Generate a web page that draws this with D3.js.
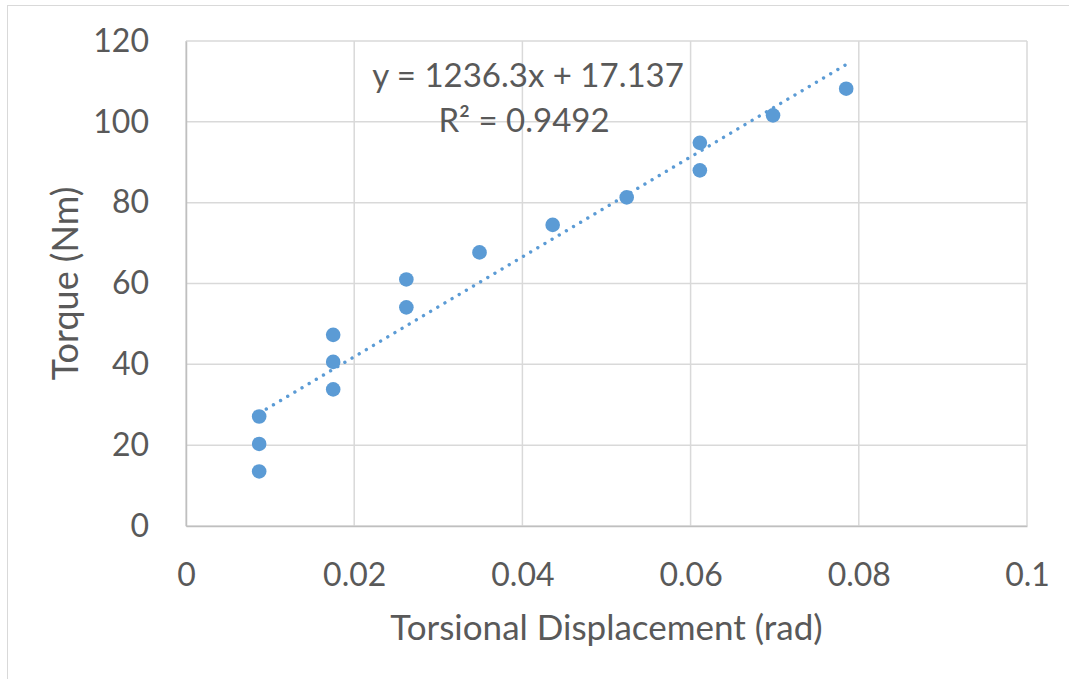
<!DOCTYPE html>
<html>
<head>
<meta charset="utf-8">
<script src="https://cdn.jsdelivr.net/npm/d3@7"></script>
<style>
  body { margin: 0; background: #fff; }
  svg text { font-family: Lato, "Open Sans", sans-serif; fill: #595959; }
</style>
</head>
<body>
<svg id="chart" width="1069" height="679"></svg>
<script>
// torsional displacement (rad) vs torque (Nm)
const disp = [0.0087, 0.0087, 0.0087, 0.0175, 0.0175, 0.0175, 0.0262, 0.0262, 0.0349, 0.0436, 0.0524, 0.0611, 0.0611, 0.0698, 0.0785]
const torque = [27.1, 20.3, 13.5, 47.3, 40.6, 33.8, 61.0, 54.1, 67.7, 74.5, 81.3, 94.8, 88.0, 101.6, 108.2]

const xTicks = [0, 0.02, 0.04, 0.06, 0.08, 0.1]
const yTicks = [0, 20, 40, 60, 80, 100, 120]

const slope = 1236.3
const intercept = 17.137
const eqLabel = "y = 1236.3x + 17.137"
const r2Label = "R² = 0.9492"

const xTitle = "Torsional Displacement (rad)"
const yTitle = "Torque (Nm)"

const svg = d3.select("#chart")
const plot = {left: 186, right: 1027, top: 41, bottom: 526}

const x = d3.scaleLinear().domain([0, 0.1]).range([plot.left, plot.right])
const y = d3.scaleLinear().domain([0, 120]).range([plot.bottom, plot.top])

// outer chart border (only top/left visible in the crop)
svg.append("rect")
    .attr("x", 7.5).attr("y", 5.5)
    .attr("width", 1100).attr("height", 700)
    .attr("fill", "none")
    .attr("stroke", "#d9d9d9")
    .attr("stroke-width", 1)

// gridlines
const grid = svg.append("g")
grid.selectAll(".gy").data(yTicks).join("line")
    .attr("x1", plot.left).attr("x2", plot.right)
    .attr("y1", d => y(d)).attr("y2", d => y(d))
    .attr("stroke", "#d9d9d9").attr("stroke-width", 1.5)
grid.selectAll(".gx").data(xTicks).join("line")
    .attr("x1", d => x(d)).attr("x2", d => x(d))
    .attr("y1", plot.top).attr("y2", plot.bottom)
    .attr("stroke", "#d9d9d9").attr("stroke-width", 1.5)

// axes (labels only, excel style)
const yAxis = svg.append("g")
    .attr("transform", `translate(${plot.left},0)`)
    .call(d3.axisLeft(y).tickValues(yTicks).tickSize(0).tickPadding(37).tickFormat(d3.format("d")))
const xAxis = svg.append("g")
    .attr("transform", `translate(0,${plot.bottom})`)
    .call(d3.axisBottom(x).tickValues(xTicks).tickSize(0).tickPadding(37).tickFormat(d => d === 0 ? "0" : String(+d.toFixed(2))))

yAxis.select(".domain").attr("stroke", "#bfbfbf").attr("stroke-width", 1.5)
xAxis.select(".domain").attr("stroke", "#bfbfbf").attr("stroke-width", 1.5)
svg.selectAll(".tick text")
    .attr("font-size", 32)
    .attr("fill", "#595959")
    .style("font-family", "Lato, 'Open Sans', sans-serif")

// linear trendline
const xr = d3.extent(disp)
svg.append("line")
    .attr("x1", x(xr[0])).attr("y1", y(slope * xr[0] + intercept))
    .attr("x2", x(xr[1])).attr("y2", y(slope * xr[1] + intercept))
    .attr("stroke", "#5b9bd5")
    .attr("stroke-width", 3.4)
    .attr("stroke-linecap", "round")
    .attr("stroke-dasharray", "0.01 8.3")

// markers
svg.append("g").selectAll("circle")
    .data(disp.map((d, i) => [d, torque[i]]))
    .join("circle")
    .attr("cx", d => x(d[0]))
    .attr("cy", d => y(d[1]))
    .attr("r", 7.3)
    .attr("fill", "#5b9bd5")

// trendline equation
svg.append("text")
    .attr("x", 528).attr("y", 87)
    .attr("text-anchor", "middle")
    .attr("font-size", 33)
    .text(eqLabel)
svg.append("text")
    .attr("x", 524).attr("y", 132)
    .attr("text-anchor", "middle")
    .attr("font-size", 33)
    .text(r2Label)

// axis titles
svg.append("text")
    .attr("x", (plot.left + plot.right) / 2).attr("y", 640)
    .attr("text-anchor", "middle")
    .attr("font-size", 35)
    .text(xTitle)
svg.append("text")
    .attr("transform", `translate(78,${(plot.top + plot.bottom) / 2}) rotate(-90)`)
    .attr("text-anchor", "middle")
    .attr("font-size", 36)
    .text(yTitle)
</script>
</body>
</html>
